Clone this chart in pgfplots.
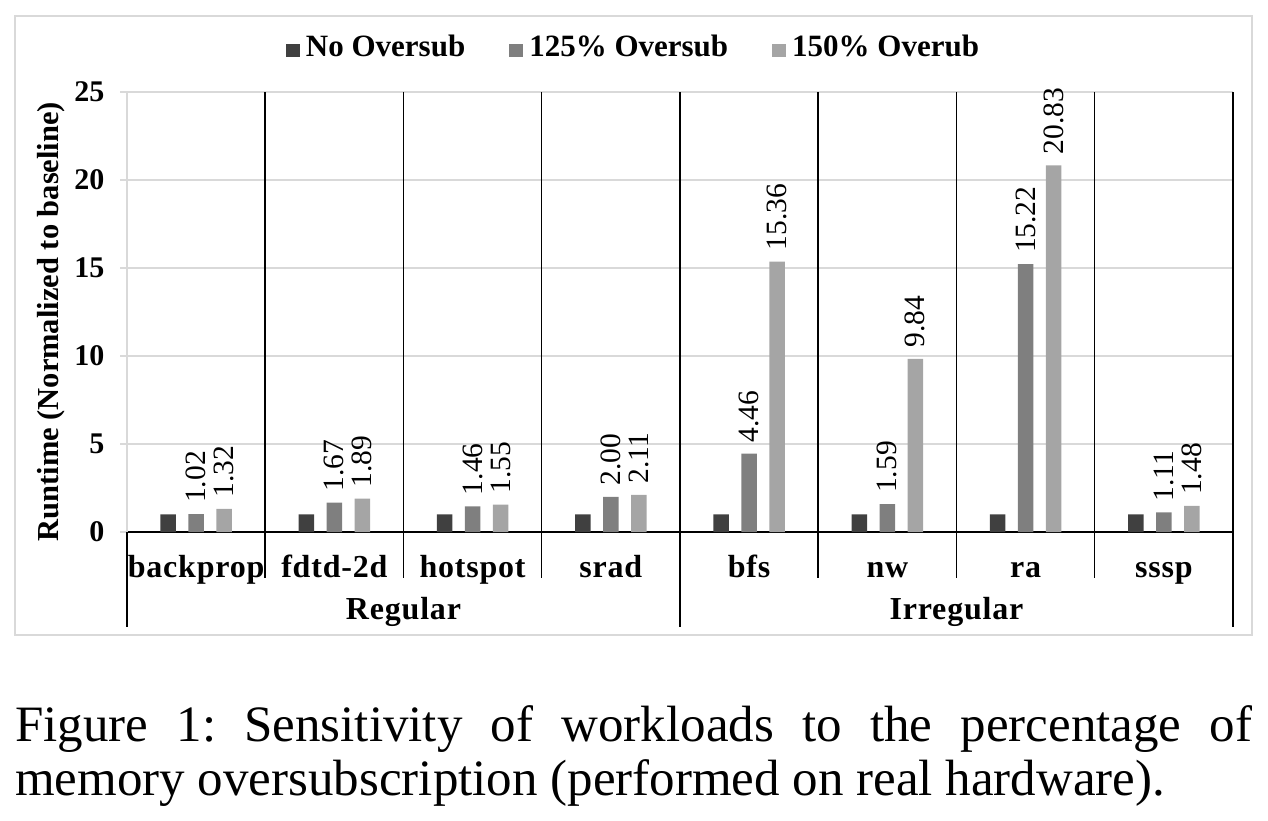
\documentclass[border=0pt]{standalone}
\usepackage{pgfplots}
\pgfplotsset{compat=1.18}
\usepackage{fontspec}
\setmainfont{Liberation Serif}
\newfontfamily\spacedfont{Liberation Serif}[LetterSpace=2.5]
\definecolor{cDark}{HTML}{404040}
\definecolor{cMid}{HTML}{7F7F7F}
\definecolor{cLight}{HTML}{A5A5A5}
\definecolor{cGrid}{HTML}{D9D9D9}
\frenchspacing

\pgfplotstableread{
x  no   p125   p150
0  1    1.02   1.32
1  1    1.67   1.89
2  1    1.46   1.55
3  1    2.00   2.11
4  1    4.46   15.36
5  1    1.59   9.84
6  1    15.22  20.83
7  1    1.11   1.48
}\datatable

\begin{document}
\begin{tikzpicture}
\draw[cGrid, line width=1.5pt] (15pt,-16pt) rectangle (1252pt,-635pt);
\begin{axis}[
  at={(127pt,-532pt)}, anchor=south west,
  width=1106pt, height=440pt, scale only axis,
  xmin=-0.5, xmax=7.5, ymin=0, ymax=25,
  ybar=12.5pt, bar width=15.5pt,
  xtick={0,...,7},
  xticklabels={backprop,fdtd-2d,hotspot,srad,bfs,nw,ra,sssp},
  ytick={0,5,...,25},
  axis x line*=bottom, axis y line*=left,
  axis line style={-},
  x axis line style={black, line width=1.5pt},
  y axis line style={cGrid, line width=1.5pt},
  ymajorgrids, grid style={cGrid, line width=1.5pt},
  xtick style={draw=none},
  ytick style={cGrid, line width=1.5pt},
  tick align=outside, major tick length=7pt,
  clip=false,
  yticklabel style={font=\fontsize{30}{34}\selectfont\bfseries,
    /pgf/number format/assume math mode=true, xshift=-12pt},
  xticklabel style={font=\fontsize{32}{36}\selectfont\spacedfont\bfseries,
    anchor=base, yshift=-38pt},
  ylabel={Runtime (Normalized to baseline)},
  every axis y label/.style={at={(axis description cs:-0.0687,0.478)}, rotate=90, anchor=center,
    font=\fontsize{30.5}{34}\selectfont\bfseries},
  legend columns=3,
  legend style={draw=none, fill=none,
    font=\fontsize{31}{35}\selectfont\bfseries,
    at={(axis description cs:0.458,1.1045)}, anchor=center,
    /tikz/every odd column/.append style={column sep=4pt},
    /tikz/every even column/.append style={column sep=42pt}},
  legend image code/.code={\fill[#1, draw=none] (0pt,-11pt) rectangle (14pt,2pt);},
  every node near coord/.append style={rotate=90, anchor=west,
    inner xsep=11pt, inner ysep=0pt, font=\fontsize{29.5}{34}\selectfont, black},
]
\addplot[fill=cDark, draw=none] table[x=x, y=no] {\datatable};
\addlegendentry{No Oversub}
\addplot[fill=cMid, draw=none,
  nodes near coords={\pgfmathprintnumber[fixed,fixed zerofill,precision=2,assume math mode=true]{\pgfplotspointmeta}}]
  table[x=x, y=p125] {\datatable};
\addlegendentry{125\% Oversub}
\addplot[fill=cLight, draw=none,
  nodes near coords={\pgfmathprintnumber[fixed,fixed zerofill,precision=2,assume math mode=true]{\pgfplotspointmeta}}]
  table[x=x, y=p150] {\datatable};
\addlegendentry{150\% Overub}

\pgfplotsinvokeforeach{0.5,1.5,2.5,4.5,5.5,6.5}{
  \draw[black, line width=1.5pt] (axis cs:#1,25) -- ([yshift=-46pt]axis cs:#1,0);
}
\pgfplotsinvokeforeach{3.5,7.5}{
  \draw[black, line width=1.5pt] (axis cs:#1,25) -- ([yshift=-95pt]axis cs:#1,0);
}
\draw[black, line width=1.5pt] (axis cs:-0.5,0) -- ([yshift=-95pt]axis cs:-0.5,0);
\node[anchor=base, font=\fontsize{32}{36}\selectfont\spacedfont\bfseries]
  at ([yshift=-87pt]axis cs:1.5,0) {Regular};
\node[anchor=base, font=\fontsize{32}{36}\selectfont\spacedfont\bfseries]
  at ([yshift=-87pt]axis cs:5.5,0) {Irregular};
\end{axis}
\node[anchor=base west, inner sep=0pt, font=\fontsize{51}{56}\selectfont]
  at (15pt,-741pt) {\makebox[1237pt][s]{Figure 1: Sensitivity of workloads to the percentage of}};
\node[anchor=base west, inner sep=0pt, font=\fontsize{51}{56}\selectfont]
  at (15pt,-795pt) {memory oversubscription (performed on real hardware).};
\pgfresetboundingbox
\path (0pt,0pt) rectangle (1268pt,-820pt);
\end{tikzpicture}
\end{document}
